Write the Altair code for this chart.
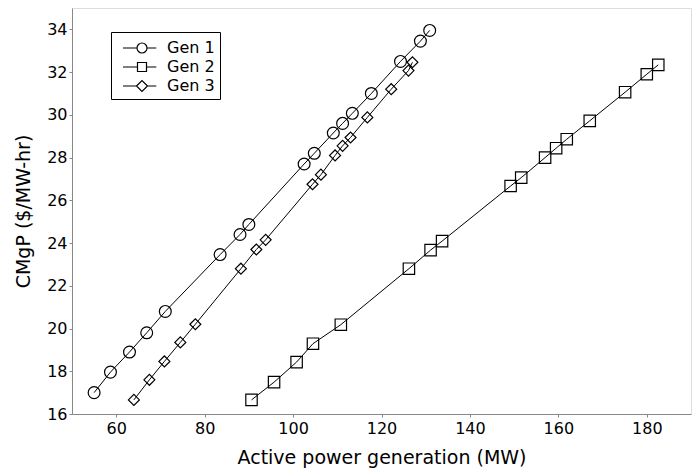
import altair as alt
import pandas as pd

gen1_x = [55, 58.7, 63, 66.9, 71.1, 83.5, 88, 90, 102.5, 104.8, 109.1, 111.2, 113.4, 117.7, 124.3, 128.8, 130.9]
gen1_y = [17.0, 17.96, 18.9, 19.8, 20.8, 23.46, 24.4, 24.87, 27.7, 28.2, 29.15, 29.6, 30.07, 31.0, 32.5, 33.45, 33.95]
gen2_x = [90.6, 95.7, 100.8, 104.5, 110.8, 126.2, 131.1, 133.7, 149.2, 151.6, 157.0, 159.5, 161.9, 167.1, 175.1, 180, 182.6]
gen2_y = [16.66, 17.49, 18.43, 19.29, 20.18, 22.8, 23.67, 24.09, 26.67, 27.06, 28.0, 28.44, 28.86, 29.72, 31.06, 31.9, 32.34]
gen3_x = [64, 67.5, 70.9, 74.5, 77.9, 88.2, 91.7, 93.8, 104.4, 106.3, 109.5, 111.2, 113, 116.8, 122.2, 126.1, 127.0]
gen3_y = [16.66, 17.6, 18.46, 19.35, 20.2, 22.8, 23.7, 24.15, 26.75, 27.2, 28.1, 28.55, 28.94, 29.88, 31.2, 32.07, 32.46]

series = ["Gen 1", "Gen 2", "Gen 3"]
x_ticks = [60, 80, 100, 120, 140, 160, 180]
y_ticks = [16, 18, 20, 22, 24, 26, 28, 30, 32, 34]

rows = []
for name, xs, ys in zip(series, [gen1_x, gen2_x, gen3_x], [gen1_y, gen2_y, gen3_y]):
    for i, (a, b) in enumerate(zip(xs, ys)):
        rows.append({"gen": name, "P": a, "C": b, "order": i})
df = pd.DataFrame(rows)

FONT = "DejaVu Sans"

x_enc = alt.X("P:Q", scale=alt.Scale(domain=[50, 190], nice=False, zero=False),
              axis=alt.Axis(values=x_ticks, title="Active power generation (MW)",
                            titleFontSize=19, titleFont=FONT, titleFontWeight="normal",
                            titlePadding=12, labelFontSize=16, labelFont=FONT,
                            labelPadding=3, tickSize=3, grid=False))
y_enc = alt.Y("C:Q", scale=alt.Scale(domain=[16, 35], nice=False, zero=False),
              axis=alt.Axis(values=y_ticks, title="CMgP ($/MW-hr)",
                            titleFontSize=19, titleFont=FONT, titleFontWeight="normal",
                            titlePadding=13, labelFontSize=16, labelFont=FONT,
                            labelPadding=2, tickSize=3, grid=False))

lines = alt.Chart(df).mark_line(color="black", strokeWidth=1).encode(
    x=x_enc, y=y_enc, detail="gen:N", order="order:Q")

points = alt.Chart(df).mark_point(filled=False, color="black", strokeWidth=1.2, opacity=1).encode(
    x="P:Q", y="C:Q",
    shape=alt.Shape("gen:N", scale=alt.Scale(domain=series, range=["circle", "square", "diamond"]), legend=None),
    size=alt.Size("gen:N", scale=alt.Scale(domain=series, range=[140, 120, 110]), legend=None),
)

legend_paths = [
    "M-0.4,0L1.0,0M2.0,0L2.93,0M1.0,0A0.5,0.5,0,1,0,2.0,0A0.5,0.5,0,1,0,1.0,0",
    "M-0.4,0L1.05,0M1.95,0L2.93,0M1.05,-0.45L1.95,-0.45L1.95,0.45L1.05,0.45Z",
    "M-0.4,0L0.95,0M2.05,0L2.93,0M0.95,0L1.5,-0.55L2.05,0L1.5,0.55Z",
]
legend_layer = alt.Chart(df).transform_filter("false").mark_point(
    filled=False, color="black", strokeWidth=1.2, opacity=1).encode(
    x="P:Q", y="C:Q",
    shape=alt.Shape("gen:N", scale=alt.Scale(domain=series, range=legend_paths),
                    legend=alt.Legend(title=None, orient="none", legendX=39, legendY=24,
                                      symbolSize=400, symbolStrokeColor="black",
                                      symbolStrokeWidth=1.2, symbolFillColor="transparent",
                                      labelFontSize=16, labelFont=FONT, labelColor="black",
                                      rowPadding=-1.7, padding=5, strokeColor="black",
                                      labelOffset=29, fillColor="white")),
)

chart = alt.layer(lines, points, legend_layer).resolve_scale(shape="independent").resolve_legend(
    shape="independent").properties(
    width=619, height=406,
    autosize=alt.AutoSizeParams(type="none"),
    padding={"left": 72, "top": 8, "right": 2, "bottom": 56},
).configure_view(stroke="black", strokeWidth=1.5).configure_axis(
    domainColor="black", domainWidth=1.5, tickColor="black", labelColor="black", titleColor="black"
).configure(background="white")

chart.save("out.html", embed_options={"renderer": "svg", "actions": False})
